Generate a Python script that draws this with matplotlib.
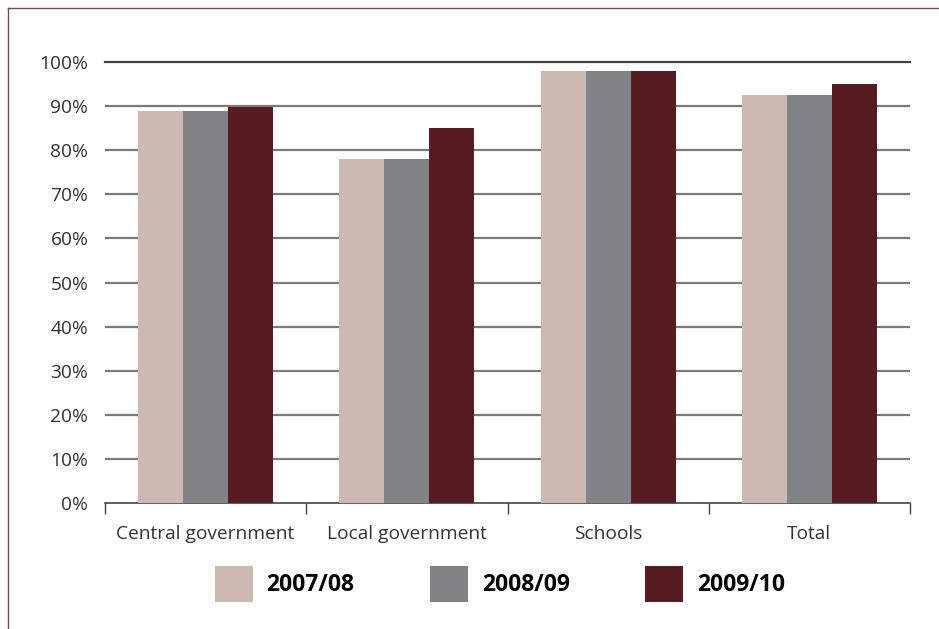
import matplotlib.pyplot as plt
import numpy as np
from matplotlib.lines import Line2D
from matplotlib.patches import Patch

plt.rcParams['font.family'] = ['Open Sans', 'DejaVu Sans']

categories = ['Central government', 'Local government', 'Schools', 'Total']
years = ['2007/08', '2008/09', '2009/10']
vals_0708 = [89, 78, 98, 92.5]
vals_0809 = [89, 78, 98, 92.5]
vals_0910 = [89.7, 85, 98, 95]
colors = ['#cdb9b2', '#828387', '#561c21']

W, H = 939, 629
fig = plt.figure(figsize=(W / 100, H / 100), dpi=100)
ax = fig.add_axes([105 / W, 1 - 503 / H, 805 / W, 441 / H])

x = np.arange(len(categories))
bw = 0.224
for i, (vals, col) in enumerate(zip([vals_0708, vals_0809, vals_0910], colors)):
    ax.bar(x + (i - 1) * bw, vals, width=bw, color=col, zorder=3, label=years[i])

ax.set_xlim(-0.5, len(categories) - 0.5)
ax.set_ylim(0, 100)
ax.set_yticks(np.arange(0, 101, 10))
ax.set_yticklabels([f'{v}%' for v in range(0, 101, 10)])

# horizontal grid lines; the top one is darker
for v in range(10, 100, 10):
    ax.axhline(v, color='#7a7a7a', lw=1.6, zorder=1)
ax.axhline(100, color='#444444', lw=1.6, zorder=1, clip_on=False)

ax.set_xticks(x)
ax.set_xticklabels(categories)
ax.set_xticks(np.arange(-0.5, len(categories), 1), minor=True)
ax.tick_params(axis='x', which='major', length=0, pad=16, labelsize=13.8, colors='#333333')
ax.tick_params(axis='x', which='minor', length=8, width=1, color='#444444')
ax.tick_params(axis='y', length=0, pad=12, labelsize=13.8, colors='#333333')

for s in ['top', 'right', 'left']:
    ax.spines[s].set_visible(False)
ax.spines['bottom'].set_color('#444444')
ax.spines['bottom'].set_linewidth(1.2)

handles = [Patch(facecolor=c, label=y) for c, y in zip(colors, years)]
fig.legend(handles=handles, loc='center', bbox_to_anchor=(500 / W, 1 - 584 / H),
           ncol=3, frameon=False, prop={'weight': 'bold', 'size': 16.5},
           handlelength=1.65, handleheight=2.1, handletextpad=0.6,
           columnspacing=3.3, borderpad=0)

# outer frame lines (left and top)
fig.add_artist(Line2D([8 / W, 8 / W], [0, 1 - 8 / H], color='#7a4a4f', lw=1))
fig.add_artist(Line2D([8 / W, 1], [1 - 8 / H, 1 - 8 / H], color='#7a4a4f', lw=1))

fig.savefig('out.png', dpi=100, facecolor='white')
